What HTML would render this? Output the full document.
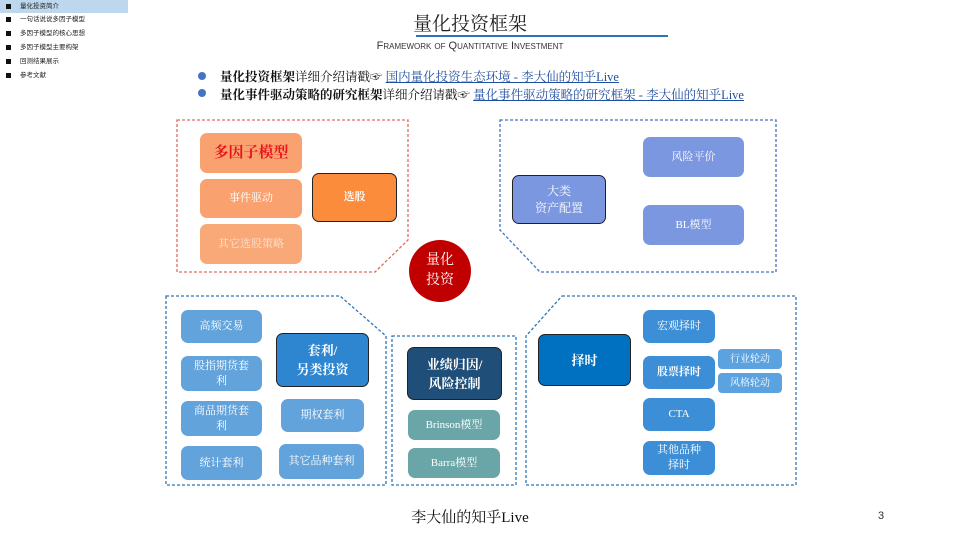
<!DOCTYPE html>
<html><head><meta charset="utf-8"><style>
body{margin:0;width:960px;height:540px;position:relative;background:#fff;overflow:hidden;font-family:"Liberation Serif","Noto Serif CJK SC",serif;}
.a{position:absolute;}
.b{position:absolute;display:flex;align-items:center;justify-content:center;text-align:center;border-radius:7px;color:#fff;font-size:11px;line-height:15px;box-sizing:border-box;}
.nav{position:absolute;left:0;width:128px;height:13px;font-size:6.5px;line-height:13px;color:#222;font-family:"Liberation Sans","Noto Sans CJK SC",sans-serif;}
.nav span{display:inline-block;width:5px;height:5px;background:#111;margin:0 9px 0 6px;vertical-align:middle;}
.bl{color:#1f4fa0;text-decoration:underline;}
</style></head><body>
<div class="nav" style="top:0;background:#bdd7ee"><span></span>量化投资简介</div>
<div class="nav" style="top:13px"><span></span>一句话说说多因子模型</div>
<div class="nav" style="top:27px"><span></span>多因子模型的核心思想</div>
<div class="nav" style="top:41px"><span></span>多因子模型主要构架</div>
<div class="nav" style="top:55px"><span></span>回测结果展示</div>
<div class="nav" style="top:69px"><span></span>参考文献</div>

<div class="a" style="left:370px;width:200px;top:9px;text-align:center;font-size:19px;color:#222">量化投资框架</div>
<div class="a" style="left:416px;top:35px;width:252px;height:2px;background:#2e75b6"></div>
<div class="a" style="left:330px;width:280px;top:40px;text-align:center;font-size:11px;font-family:'Liberation Sans',sans-serif;font-variant:small-caps;color:#333">Framework of Quantitative Investment</div>

<div class="a" style="left:198px;top:72px;width:8px;height:8px;border-radius:50%;background:#4472c4"></div>
<div class="a" style="left:198px;top:89px;width:8px;height:8px;border-radius:50%;background:#4472c4"></div>
<div class="a" style="left:220px;top:67px;font-size:12.5px;white-space:nowrap;color:#111"><b>量化投资框架</b>详细介绍请戳☞ <span class="bl">国内量化投资生态环境 - 李大仙的知乎Live</span></div>
<div class="a" style="left:220px;top:85px;font-size:12.5px;white-space:nowrap;color:#111"><b>量化事件驱动策略的研究框架</b>详细介绍请戳☞ <span class="bl">量化事件驱动策略的研究框架 - 李大仙的知乎Live</span></div>

<svg class="a" style="left:0;top:0" width="960" height="540">
<polygon points="177,120 408,120 408,240 375,272 177,272" fill="none" stroke="#e06c5a" stroke-width="1.3" stroke-dasharray="3,2"/>
<polygon points="500,120 776,120 776,272 540,272 500,230" fill="none" stroke="#4472c4" stroke-width="1.3" stroke-dasharray="3,2"/>
<polygon points="166,296 340,296 386,336 386,485 166,485" fill="none" stroke="#2e75b6" stroke-width="1.3" stroke-dasharray="3,2"/>
<rect x="392" y="336" width="124" height="149" fill="none" stroke="#2e75b6" stroke-width="1.3" stroke-dasharray="3,2"/>
<polygon points="562,296 796,296 796,485 526,485 526,336" fill="none" stroke="#2e75b6" stroke-width="1.3" stroke-dasharray="3,2"/>
<circle cx="440" cy="271" r="31" fill="#c00000"/>
</svg>
<div class="b" style="left:409px;top:250px;width:62px;height:42px;font-size:14px;line-height:20px">量化<br>投资</div>

<div class="b" style="left:200px;top:133px;width:102px;height:40px;background:#f9a270;color:#e8141c;font-size:15px;font-weight:bold">多因子模型</div>
<div class="b" style="left:200px;top:179px;width:102px;height:39px;background:#f9a270">事件驱动</div>
<div class="b" style="left:200px;top:224px;width:102px;height:40px;background:#f9a878;color:#fde3d0">其它选股策略</div>
<div class="b" style="left:312px;top:173px;width:85px;height:49px;background:#fb8c3c;border:1.5px solid #222;font-weight:bold">选股</div>

<div class="b" style="left:512px;top:175px;width:94px;height:49px;background:#7b97e0;border:1.5px solid #222;font-size:12px;line-height:17px">大类<br>资产配置</div>
<div class="b" style="left:643px;top:137px;width:101px;height:40px;background:#7b97e0">风险平价</div>
<div class="b" style="left:643px;top:205px;width:101px;height:40px;background:#7b97e0">BL模型</div>

<div class="b" style="left:181px;top:310px;width:81px;height:33px;background:#62a3dc">高频交易</div>
<div class="b" style="left:181px;top:356px;width:81px;height:35px;background:#62a3dc">股指期货套<br>利</div>
<div class="b" style="left:181px;top:401px;width:81px;height:35px;background:#62a3dc">商品期货套<br>利</div>
<div class="b" style="left:181px;top:446px;width:81px;height:34px;background:#62a3dc">统计套利</div>
<div class="b" style="left:276px;top:333px;width:93px;height:54px;background:#2e86d1;border:1.5px solid #222;font-size:13px;line-height:19px;font-weight:bold">套利/<br>另类投资</div>
<div class="b" style="left:281px;top:399px;width:83px;height:33px;background:#62a3dc">期权套利</div>
<div class="b" style="left:279px;top:444px;width:85px;height:35px;background:#62a3dc">其它品种套利</div>

<div class="b" style="left:407px;top:347px;width:95px;height:53px;background:#1f4e79;border:1.5px solid #222;font-size:13px;line-height:19px;font-weight:bold">业绩归因/<br>风险控制</div>
<div class="b" style="left:408px;top:410px;width:92px;height:30px;background:#6aa6a8">Brinson模型</div>
<div class="b" style="left:408px;top:448px;width:92px;height:30px;background:#6aa6a8">Barra模型</div>

<div class="b" style="left:538px;top:334px;width:93px;height:52px;background:#0070c0;border:1.5px solid #222;font-size:13px;font-weight:bold">择时</div>
<div class="b" style="left:643px;top:310px;width:72px;height:33px;background:#3c8fd6">宏观择时</div>
<div class="b" style="left:643px;top:356px;width:72px;height:33px;background:#3c8fd6;font-weight:bold">股票择时</div>
<div class="b" style="left:643px;top:398px;width:72px;height:33px;background:#3c8fd6">CTA</div>
<div class="b" style="left:643px;top:441px;width:72px;height:34px;background:#3c8fd6">其他品种<br>择时</div>
<div class="b" style="left:718px;top:349px;width:64px;height:20px;background:#5ba3e0;border-radius:4px;font-size:10px">行业轮动</div>
<div class="b" style="left:718px;top:373px;width:64px;height:20px;background:#5ba3e0;border-radius:4px;font-size:10px">风格轮动</div>

<div class="a" style="left:370px;width:200px;top:506px;text-align:center;font-size:15px;color:#111">李大仙的知乎Live</div>
<div class="a" style="left:878px;top:510px;font-size:11px;font-family:'Liberation Sans',sans-serif;color:#333">3</div>
</body></html>
